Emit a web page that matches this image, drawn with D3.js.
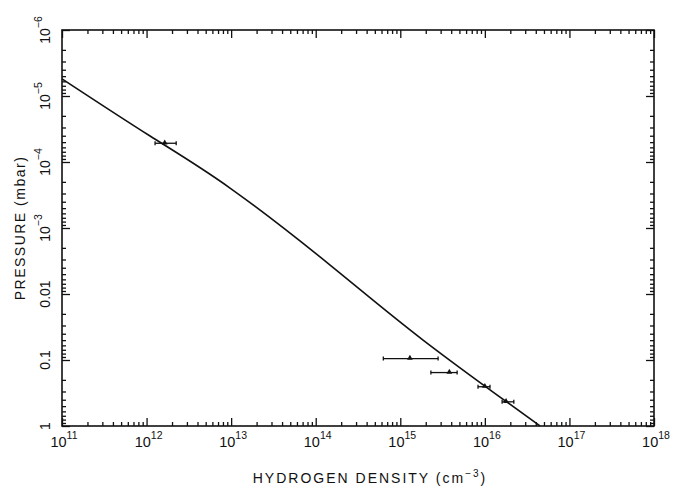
<!DOCTYPE html>
<html>
<head>
<meta charset="utf-8">
<script src="https://cdn.jsdelivr.net/npm/d3@7"></script>
<style>
  html, body { margin: 0; padding: 0; background: #fff; }
  svg { display: block; }
  text { font-family: "Liberation Sans", Arial, Helvetica, sans-serif; fill: #111; }
</style>
</head>
<body>
<svg id="chart" width="679" height="489"></svg>
<script>
// Model curve: hydrogen density (cm^-3) vs pressure (mbar)
const curveDensity  = [1e11, 1.1e12, 9.7e12, 1.48e14, 1.86e15, 4.49e16];
const curvePressure = [5.5e-6, 4.04e-5, 2.48e-4, 3.64e-3, 0.0498, 1.0];

// Measurements with horizontal error ranges
const obsDensity  = [1.64e12, 1.3e15, 3.8e15, 1.0e16, 1.78e16];
const obsLow      = [1.26e12, 6.3e14, 2.3e15, 8.3e15, 1.6e16];
const obsHigh     = [2.24e12, 2.8e15, 4.7e15, 1.15e16, 2.2e16];
const obsPressure = [5.2e-5, 0.095, 0.155, 0.254, 0.43];

// Axis ticks and labels
const xMajor = [1e11, 1e12, 1e13, 1e14, 1e15, 1e16, 1e17, 1e18];
const xLabels = [["10", "11"], ["10", "12"], ["10", "13"], ["10", "14"], ["10", "15"], ["10", "16"], ["10", "17"], ["10", "18"]];
const yMajor = [1e-6, 1e-5, 1e-4, 1e-3, 0.01, 0.1, 1];
const yLabels = [["10", "−6"], ["10", "−5"], ["10", "−4"], ["10", "−3"], ["0.01", ""], ["0.1", ""], ["1", ""]];

const svg = d3.select("#chart");
const L = 62, R = 654, T = 30, B = 426;

const x = d3.scaleLog().domain([1e11, 1e18]).range([L, R]);
const y = d3.scaleLog().domain([1e-6, 1]).range([T, B]);

function minors(majors) {
  const out = [];
  for (let i = 0; i < majors.length - 1; i++) {
    for (let k = 2; k <= 9; k++) out.push(majors[i] * k);
  }
  return out;
}
const xMinor = minors(xMajor);
const yMinor = minors(yMajor);

const tickStyle = g => {
  g.select(".domain").remove();
  g.selectAll(".tick line").attr("stroke", "#111").attr("stroke-width", 1.3);
  g.selectAll(".tick text").remove();
};

// Ticks on all four sides, pointing inward
const axes = [
  [d3.axisBottom(x), `translate(0,${B})`, xMajor, xMinor],
  [d3.axisTop(x), `translate(0,${T})`, xMajor, xMinor],
  [d3.axisLeft(y), `translate(${L},0)`, yMajor, yMinor],
  [d3.axisRight(y), `translate(${R},0)`, yMajor, yMinor]
];
axes.forEach(([ax, tr, maj, mn]) => {
  svg.append("g").attr("transform", tr)
    .call(ax.tickValues(maj).tickSize(-8).tickFormat(""))
    .call(tickStyle);
  svg.append("g").attr("transform", tr)
    .call(ax.tickValues(mn).tickSize(-4).tickFormat(""))
    .call(tickStyle);
});

// Frame
svg.append("rect")
  .attr("x", L).attr("y", T).attr("width", R - L).attr("height", B - T)
  .attr("fill", "none").attr("stroke", "#111").attr("stroke-width", 1.6);

// X tick labels
xMajor.forEach((v, i) => {
  const t = svg.append("text")
    .attr("x", x(v) + 2).attr("y", B + 21)
    .attr("text-anchor", "middle")
    .attr("font-size", 14.5);
  t.append("tspan").text(xLabels[i][0]);
  t.append("tspan").attr("dy", -8).attr("font-size", 10.5).text(xLabels[i][1]);
});

// Y tick labels (rotated)
yMajor.forEach((v, i) => {
  const t = svg.append("text")
    .attr("transform", `translate(50,${y(v)}) rotate(-90)`)
    .attr("text-anchor", "middle")
    .attr("font-size", 14);
  t.append("tspan").text(yLabels[i][0]);
  if (yLabels[i][1]) t.append("tspan").attr("dy", -8).attr("font-size", 10.5).text(yLabels[i][1]);
});

// Axis titles
const xt = svg.append("text")
  .attr("x", 370).attr("y", 483)
  .attr("text-anchor", "middle")
  .attr("font-size", 14)
  .attr("letter-spacing", 2);
xt.append("tspan").text("HYDROGEN DENSITY (cm");
xt.append("tspan").attr("dy", -6).attr("font-size", 10).text("−3");
xt.append("tspan").attr("dy", 6).text(")");

svg.append("text")
  .attr("transform", `translate(25,228) rotate(-90)`)
  .attr("text-anchor", "middle")
  .attr("font-size", 14)
  .attr("letter-spacing", 1.5)
  .text("PRESSURE (mbar)");

// Model curve (smooth spline through the tabulated points)
const curveData = curveDensity.map((d, i) => [d, curvePressure[i]]);
svg.append("path")
  .datum(curveData)
  .attr("fill", "none")
  .attr("stroke", "#111")
  .attr("stroke-width", 1.6)
  .attr("d", d3.line().x(d => x(d[0])).y(d => y(d[1])).curve(d3.curveNatural));

// Observations: horizontal error bars with end caps and triangle markers
const obs = obsDensity.map((d, i) => ({ d, lo: obsLow[i], hi: obsHigh[i], p: obsPressure[i] }));
const g = svg.append("g").attr("stroke", "#111").attr("stroke-width", 1.3);
obs.forEach(o => {
  const cy = y(o.p);
  g.append("line").attr("x1", x(o.lo)).attr("x2", x(o.hi)).attr("y1", cy).attr("y2", cy);
  g.append("line").attr("x1", x(o.lo)).attr("x2", x(o.lo)).attr("y1", cy - 2).attr("y2", cy + 2);
  g.append("line").attr("x1", x(o.hi)).attr("x2", x(o.hi)).attr("y1", cy - 2).attr("y2", cy + 2);
});
svg.append("g").selectAll("path")
  .data(obs)
  .join("path")
  .attr("d", d3.symbol(d3.symbolTriangle, 14))
  .attr("transform", o => `translate(${x(o.d)},${y(o.p) - 0.5})`)
  .attr("fill", "#111");
</script>
</body>
</html>
